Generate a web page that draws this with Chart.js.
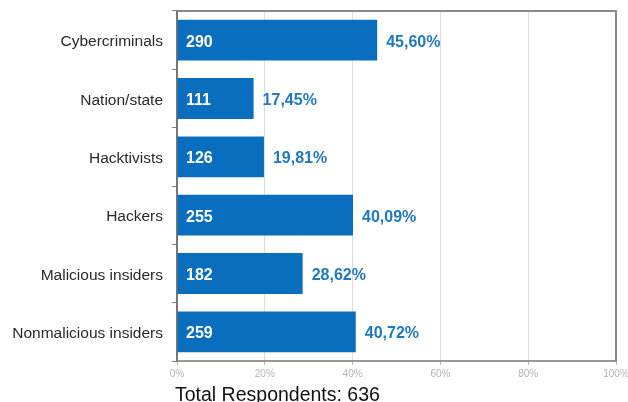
<!DOCTYPE html>
<html>
<head>
<meta charset="utf-8">
<script src="https://cdn.jsdelivr.net/npm/chart.js@4/dist/chart.umd.min.js"></script>
<style>
  html, body { margin: 0; padding: 0; background: #fff; }
  #wrap { width: 628px; height: 402px; position: relative; }
</style>
</head>
<body>
<div id="wrap"><canvas id="chart" width="628" height="402"></canvas></div>
<script>
'use strict';

// Data
const categories = ['Cybercriminals', 'Nation/state', 'Hacktivists', 'Hackers', 'Malicious insiders', 'Nonmalicious insiders'];
const counts = [290, 111, 126, 255, 182, 259];
const percents = [45.60, 17.45, 19.81, 40.09, 28.62, 40.72];
const totalRespondents = 636;

const barColor = '#0a6ebf';
const labelColor = '#1f78c1';

// Draw counts, percentages, frame and footer text
const labelPlugin = {
    id: 'labelPlugin',
    afterDatasetsDraw(chart) {
        const ctx = chart.ctx;
        const area = chart.chartArea;
        const meta = chart.getDatasetMeta(0);

        // top and right frame
        ctx.save();
        ctx.strokeStyle = '#8a8a8a';
        ctx.lineWidth = 2;
        ctx.beginPath();
        ctx.moveTo(area.left, area.top);
        ctx.lineTo(area.right, area.top);
        ctx.lineTo(area.right, area.bottom);
        ctx.stroke();

        ctx.textBaseline = 'middle';
        ctx.font = 'bold 16px "Liberation Sans", Arial, sans-serif';
        meta.data.forEach((bar, i) => {
            ctx.fillStyle = '#ffffff';
            ctx.textAlign = 'left';
            ctx.fillText(String(counts[i]), area.left + 9, bar.y + 2);
            ctx.fillStyle = labelColor;
            ctx.fillText(percents[i].toFixed(2).replace('.', ',') + '%', bar.x + 9, bar.y + 2);
        });

        ctx.fillStyle = '#111';
        ctx.font = '19.5px "Liberation Sans", Arial, sans-serif';
        ctx.textAlign = 'left';
        ctx.textBaseline = 'alphabetic';
        ctx.fillText('Total Respondents: ' + totalRespondents, 175, 401);
        ctx.restore();
    }
};

const ctx = document.getElementById('chart').getContext('2d');
const chart = new Chart(ctx, {
    type: 'bar',
    data: {
        labels: categories,
        datasets: [{
            data: percents,
            backgroundColor: barColor,
            borderWidth: 0,
            barPercentage: 0.7,
            categoryPercentage: 1
        }]
    },
    options: {
        indexAxis: 'y',
        responsive: false,
        animation: false,
        layout: { padding: { top: 11, right: 12, left: 0, bottom: 0 } },
        plugins: {
            legend: { display: false },
            tooltip: { enabled: false }
        },
        scales: {
            x: {
                min: 0,
                max: 100,
                ticks: {
                    stepSize: 20,
                    color: '#b5b5b5',
                    font: { size: 10, family: 'Arial, sans-serif' },
                    padding: 3,
                    callback: (v) => v + '%'
                },
                grid: {
                    color: '#dcdcdc',
                    tickLength: 4,
                    tickColor: '#bbbbbb'
                },
                border: { color: '#999999', width: 2 },
                afterFit: (s) => { s.height = 41; s.paddingLeft = 0; s.paddingRight = 0; }
            },
            y: {
                ticks: {
                    color: '#2a2a2a',
                    font: { size: 15.5, family: '"Liberation Sans", Arial, sans-serif' },
                    padding: 9,
                    labelOffset: 2
                },
                grid: {
                    drawOnChartArea: false,
                    tickLength: 5,
                    tickColor: '#888',
                    offset: true
                },
                border: { color: '#777', width: 2 },
                afterFit: (s) => { s.width = 177; s.paddingTop = 0; s.paddingBottom = 0; }
            }
        }
    },
    plugins: [labelPlugin]
});
</script>
</body>
</html>
